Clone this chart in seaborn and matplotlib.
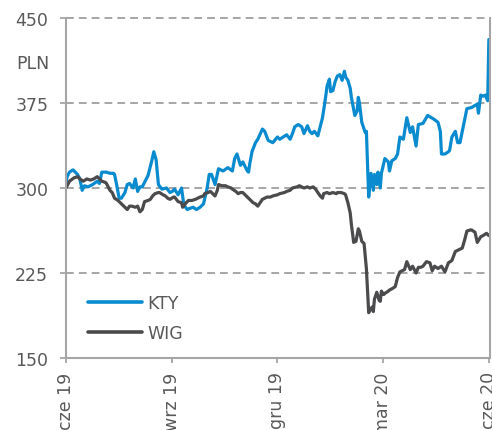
import numpy as np
import pandas as pd
import matplotlib
matplotlib.use("Agg")
import matplotlib.pyplot as plt
import matplotlib.dates as mdates
import seaborn as sns

START = "2019-06-01"

# KTY: days since START, price (PLN)
kty_days = [0, 1, 3, 6, 10, 12, 14, 16, 19, 21, 23, 27, 29, 31, 35, 38, 41, 42, 44, 46,
            48, 51, 53, 55, 58, 60, 62, 64, 66, 68, 71, 74, 76, 78, 80, 83, 87, 90, 92, 94,
            97, 100, 102, 105, 107, 110, 113, 116, 119, 122, 124, 126, 129, 132, 136, 140, 144, 146, 148, 151,
            153, 157, 158, 159, 161, 164, 166, 170, 172, 175, 179, 183, 185, 188, 191, 194, 196, 198, 201, 204,
            206, 209, 211, 213, 215, 218, 221, 222, 224, 226, 228, 229, 231, 233, 235, 237, 239, 241, 242, 244,
            246, 247, 250, 252, 253, 254, 256, 259, 260, 262, 264, 266, 267, 269, 270, 272, 273, 276, 279, 280,
            282, 285, 287, 289, 292, 295, 298, 300, 303, 305, 309, 313, 318, 322, 324, 325, 328, 331, 332, 334,
            337, 339, 341, 344, 347, 351, 356, 357, 359, 361, 363, 365, 366]
kty_values = [305, 310, 314, 316, 312, 308, 298, 302, 301, 302, 303, 306, 304, 314, 314, 313, 313, 312, 302, 291,
              291, 296, 303, 304, 300, 308, 297, 301, 301, 305, 311, 323, 332, 325, 303, 299, 300, 296, 297, 299,
              294, 300, 285, 281, 282, 283, 281, 283, 286, 299, 312, 312, 303, 317, 315, 318, 315, 326, 330, 320,
              323, 315, 314, 321, 332, 340, 343, 352, 350, 342, 340, 345, 343, 345, 347, 343, 348, 354, 356, 354,
              348, 355, 350, 348, 350, 346, 358, 362, 375, 390, 396, 385, 386, 394, 399, 400, 395, 403, 398, 395,
              388, 380, 364, 368, 380, 375, 358, 349, 350, 292, 313, 298, 312, 303, 314, 300, 313, 326, 323, 315,
              324, 326, 330, 345, 343, 362, 349, 354, 337, 356, 357, 364, 361, 358, 350, 330, 330, 332, 333, 345,
              350, 340, 340, 355, 370, 371, 374, 366, 382, 381, 382, 377, 431]

# WIG: days since START, index level rescaled (PLN axis)
wig_days = [0, 1, 3, 7, 10, 12, 15, 18, 21, 24, 27, 29, 31, 34, 35, 38, 40, 42, 45, 47,
            50, 53, 55, 57, 60, 62, 64, 66, 68, 71, 73, 75, 77, 80, 81, 84, 86, 88, 90, 93,
            94, 97, 100, 101, 104, 106, 109, 112, 116, 119, 120, 123, 125, 127, 129, 131, 132, 135, 138, 140,
            143, 144, 147, 149, 151, 153, 156, 157, 160, 162, 164, 166, 168, 170, 172, 174, 177, 179, 183, 185,
            189, 191, 194, 196, 200, 202, 206, 209, 211, 214, 216, 218, 220, 222, 223, 226, 228, 231, 234, 235,
            238, 241, 242, 244, 246, 247, 249, 251, 253, 254, 256, 258, 259, 260, 261, 262, 263, 265, 266, 267,
            269, 271, 272, 273, 275, 276, 279, 280, 282, 285, 287, 289, 291, 293, 295, 298, 300, 303, 305, 307,
            309, 312, 315, 317, 319, 322, 325, 328, 331, 334, 337, 339, 343, 345, 347, 350, 351, 354, 356, 359,
            361, 364, 366]
wig_values = [300, 302, 306, 309, 310, 308, 306, 308, 307, 308, 310, 308, 306, 305, 304, 298, 296, 291, 289, 287,
              284, 281, 284, 284, 283, 284, 279, 281, 288, 289, 290, 293, 295, 296, 296, 294, 293, 291, 290, 292,
              292, 288, 287, 283, 287, 289, 289, 290, 292, 293, 295, 296, 297, 295, 293, 298, 303, 302, 302, 301,
              300, 299, 297, 295, 296, 296, 293, 292, 289, 287, 286, 284, 287, 290, 291, 292, 292, 293, 294, 295,
              296, 297, 298, 300, 301, 302, 300, 301, 300, 301, 299, 296, 293, 291, 295, 296, 295, 296, 295, 296,
              296, 295, 294, 287, 278, 268, 252, 253, 264, 262, 253, 251, 240, 229, 210, 190, 192, 195, 191, 202,
              208, 201, 200, 209, 206, 207, 209, 210, 211, 213, 221, 226, 227, 228, 235, 228, 231, 225, 230, 230,
              231, 235, 234, 227, 231, 229, 231, 226, 234, 236, 244, 245, 247, 254, 262, 263, 263, 261, 252, 257,
              258, 260, 258]

y_ticks = [150, 225, 300, 375, 450]
x_tick_dates = ["2019-06-01", "2019-09-01", "2019-12-01", "2020-03-01", "2020-06-01"]
x_tick_labels = ["cze 19", "wrz 19", "gru 19", "mar 20", "cze 20"]
series_names = ["KTY", "WIG"]
series_colors = ["#0B8BCF", "#4B4B4D"]
unit_label = "PLN"

start = pd.Timestamp(START)
df = pd.concat([
    pd.DataFrame({"date": start + pd.to_timedelta(kty_days, unit="D"), "value": kty_values, "series": "KTY"}),
    pd.DataFrame({"date": start + pd.to_timedelta(wig_days, unit="D"), "value": wig_values, "series": "WIG"}),
], ignore_index=True)

sns.set_theme(style="white")
plt.rcParams["font.family"] = ["DejaVu Sans"]
TXT = "#595959"
GRID = "#A6A6A6"

fig = plt.figure(figsize=(4.92, 4.31), dpi=100)
ax = fig.add_axes([66 / 492, 72 / 431, 424 / 492, 340 / 431])

for name, col in zip(series_names, series_colors):
    sub = df[df["series"] == name]
    sns.lineplot(data=sub, x="date", y="value", ax=ax, color=col, linewidth=2.3,
                 label=name, errorbar=None, sort=False)

ax.set_ylim(150, 450)
ax.set_yticks(y_ticks)
ax.set_xlim(pd.Timestamp("2019-06-01"), pd.Timestamp("2020-06-02"))
ax.set_xticks(pd.to_datetime(x_tick_dates))
ax.set_xticklabels(x_tick_labels, rotation=90, va="top", ha="center")
ax.set_xlabel("")
ax.set_ylabel("")

ax.yaxis.grid(True, color=GRID, linestyle=(0, (4, 2.6)), linewidth=1.4)
ax.xaxis.grid(False)
for gl in ax.get_ygridlines():
    gl.set_clip_on(False)
ax.set_axisbelow(True)

for side in ["left", "bottom", "right"]:
    ax.spines[side].set_visible(True)
    ax.spines[side].set_color(GRID)
    ax.spines[side].set_linewidth(1.5)
ax.spines["top"].set_visible(False)

ax.tick_params(axis="y", which="both", left=True, length=4.3, width=1.3, color=GRID,
               labelsize=12.5, labelcolor=TXT, pad=8.5)
ax.tick_params(axis="x", which="both", bottom=True, length=3.6, width=1.3, color=GRID,
               labelsize=12.5, labelcolor=TXT, pad=6)

fig.text(33 / 492, (431 - 64) / 431, unit_label, ha="center", va="center",
         fontsize=12.5, color=TXT)

leg = ax.legend(loc="center left", bbox_to_anchor=(0.052, 0.118), frameon=False,
                fontsize=12.5, handlelength=3.1, handletextpad=0.3, labelspacing=0.7,
                borderpad=0, borderaxespad=0)
for t in leg.get_texts():
    t.set_color(TXT)
for h in leg.get_lines():
    h.set_linewidth(2.6)

fig.savefig("out.png", dpi=100)
